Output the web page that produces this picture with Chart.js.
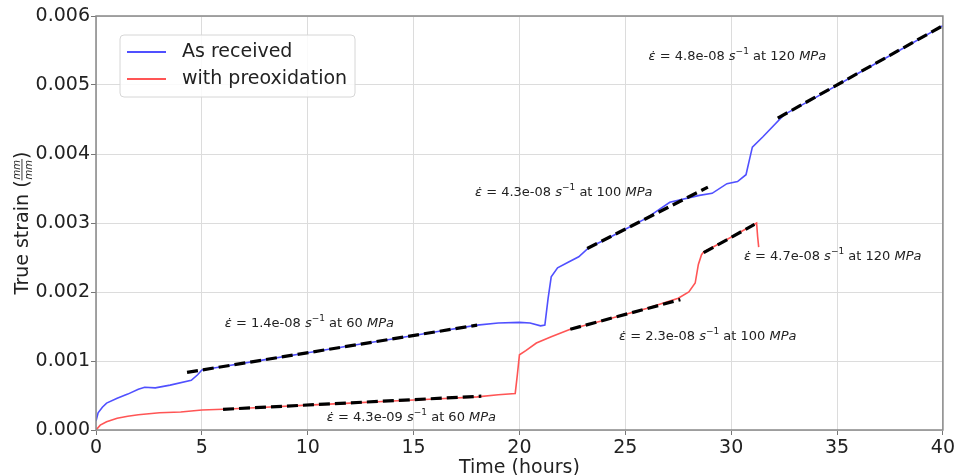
<!DOCTYPE html>
<html>
<head>
<meta charset="utf-8">
<script src="https://cdn.jsdelivr.net/npm/chart.js@4.4.1/dist/chart.umd.min.js"></script>
<style>
  html, body { margin: 0; padding: 0; background: #fff; }
  #wrap { position: relative; width: 957px; height: 475px; }
</style>
</head>
<body>
<div id="wrap"><canvas id="strain"></canvas></div>
<script>
// As received (blue)
const tBlue = [0, 0.1, 0.3, 0.5, 1.0, 1.5, 2.0, 2.3, 2.8, 3.5, 4.5, 4.8, 5.0, 6, 8, 10, 12, 14, 16, 18, 19, 20, 20.5, 21.0, 21.2, 21.35, 21.5, 21.8, 22.3, 22.8, 23.3, 24, 25, 26, 27.1, 28.5, 29.1, 29.8, 30.3, 30.7, 30.85, 31.0, 31.5, 32.5, 34, 36, 38, 40];
const sBlue = [0.00013, 0.00025, 0.00033, 0.00039, 0.00046, 0.00052, 0.00059, 0.00062, 0.00061, 0.00065, 0.00072, 0.0008, 0.00087, 0.00092, 0.00102, 0.00112, 0.00122, 0.00132, 0.00142, 0.00152, 0.00155, 0.00156, 0.00155, 0.00151, 0.00152, 0.0019, 0.00222, 0.00235, 0.00243, 0.00251, 0.00265, 0.00275, 0.00291, 0.00307, 0.0033, 0.0034, 0.00343, 0.00357, 0.0036, 0.0037, 0.0039, 0.0041, 0.00425, 0.00457, 0.00482, 0.00517, 0.00551, 0.00586];

// With preoxidation (red)
const tRed = [0, 0.2, 0.5, 1, 1.5, 2, 3, 4, 5, 6, 8, 10, 12, 14, 16, 18, 19, 19.8, 19.9, 20.0, 20.3, 20.8, 21.5, 22.4, 24, 26, 27.5, 28.0, 28.3, 28.45, 28.6, 28.7, 29.5, 30.5, 31.2, 31.25, 31.3];
const sRed = [0.0, 0.00007, 0.00012, 0.00017, 0.0002, 0.00022, 0.00025, 0.00026, 0.00029, 0.0003, 0.00033, 0.00036, 0.00039, 0.00042, 0.00045, 0.00048, 0.00051, 0.00053, 0.0008, 0.00109, 0.00115, 0.00126, 0.00135, 0.00146, 0.00159, 0.00176, 0.00191, 0.002, 0.00213, 0.0024, 0.00254, 0.00258, 0.00271, 0.00288, 0.003, 0.0028, 0.00265];

// linear fits (start/end)
const fitT = [[4.3, 18], [6, 18.2], [22.4, 27.6], [23.2, 28.9], [28.7, 31.1], [32.2, 40]];
const fitS = [[0.000835, 0.00152], [0.0003, 0.00049], [0.00146, 0.00189], [0.00263, 0.00352], [0.00257, 0.00298], [0.00452, 0.00586]];

// fit labels: rate, stress, anchor (hours, strain)
const noteRate = ['1.4e-08', '4.3e-09', '2.3e-08', '4.3e-08', '4.8e-08', '4.7e-08'];
const noteStress = [60, 60, 100, 100, 120, 120];
const noteT = [6.08, 10.9, 24.7, 17.9, 26.1, 30.6];
const noteS = [0.001536, 0.000174, 0.001348, 0.003435, 0.005406, 0.002507];

const xTicks = [0, 5, 10, 15, 20, 25, 30, 35, 40];
const yTicks = [0, 0.001, 0.002, 0.003, 0.004, 0.005, 0.006];

const blue = 'rgb(80,80,255)';
const red = 'rgb(255,85,85)';
const font = 'DejaVu Sans';
const ink = '#222';

const pts = (ts, ss) => ts.map((t, i) => ({ x: t, y: ss[i] }));

const datasets = [
    { label: 'As received', data: pts(tBlue, sBlue), borderColor: blue, borderWidth: 1.6, order: 2 },
    { label: 'with preoxidation', data: pts(tRed, sRed), borderColor: red, borderWidth: 1.6, order: 2 }
].concat(fitT.map((ts, i) => ({
    label: 'fit' + i, data: pts(ts, fitS[i]), borderColor: '#000', borderWidth: 3.2,
    borderDash: [11, 5], borderCapStyle: 'butt', order: 1
})));

function richText(ctx, x, y, rate, stress) {
    const pieces = [
        { t: 'ε\u0307', i: true }, { t: ' = ' + rate + ' ' }, { t: 's', i: true },
        { t: '\u22121', sup: true }, { t: ' at ' + stress + ' ' }, { t: 'MPa', i: true }
    ];
    let cx = x;
    pieces.forEach(p => {
        const size = p.sup ? 9 : 13;
        ctx.font = (p.i ? 'italic ' : '') + size + 'px "' + font + '"';
        ctx.fillText(p.t, cx, p.sup ? y - 5 : y);
        cx += ctx.measureText(p.t).width;
    });
}

const extras = {
    id: 'extras',
    afterDraw(chart) {
        const { ctx, chartArea: a, scales } = chart;
        ctx.save();
        // frame
        ctx.strokeStyle = '#888';
        ctx.lineWidth = 1.5;
        ctx.strokeRect(a.left, a.top, a.right - a.left, a.bottom - a.top);

        // fit labels
        ctx.fillStyle = ink;
        ctx.textBaseline = 'middle';
        ctx.textAlign = 'left';
        noteRate.forEach((r, i) => {
            richText(ctx, scales.x.getPixelForValue(noteT[i]), scales.y.getPixelForValue(noteS[i]), r, noteStress[i]);
        });

        // legend
        const lx = 120, ly = 35, lw = 235, lh = 62;
        ctx.beginPath();
        ctx.roundRect(lx, ly, lw, lh, 4);
        ctx.fillStyle = 'rgba(255,255,255,0.85)';
        ctx.fill();
        ctx.strokeStyle = '#d6d6d6';
        ctx.lineWidth = 1;
        ctx.stroke();
        ctx.font = '19px "' + font + '"';
        [0, 1].forEach(i => {
            const ds = chart.data.datasets[i];
            const yy = ly + 17 + i * 27;
            ctx.strokeStyle = ds.borderColor;
            ctx.lineWidth = 2;
            ctx.beginPath();
            ctx.moveTo(lx + 7, yy);
            ctx.lineTo(lx + 46, yy);
            ctx.stroke();
            ctx.fillStyle = ink;
            ctx.fillText(ds.label, lx + 62, yy);
        });

        // x title
        ctx.textAlign = 'center';
        ctx.textBaseline = 'alphabetic';
        ctx.fillText('Time (hours)', (a.left + a.right) / 2, 473);

        // y title with fraction
        ctx.translate(28, (a.top + a.bottom) / 2);
        ctx.rotate(-Math.PI / 2);
        const main = 'True strain (';
        ctx.font = '19px "' + font + '"';
        const wMain = ctx.measureText(main).width;
        const wParen = ctx.measureText(')').width;
        ctx.font = 'italic 10px "' + font + '"';
        const wFrac = ctx.measureText('mm').width + 2;
        let x0 = -(wMain + wFrac + wParen) / 2;
        ctx.textAlign = 'left';
        ctx.font = '19px "' + font + '"';
        ctx.fillText(main, x0, 0);
        x0 += wMain;
        ctx.font = 'italic 10px "' + font + '"';
        ctx.textAlign = 'center';
        ctx.fillText('mm', x0 + wFrac / 2, -8);
        ctx.fillText('mm', x0 + wFrac / 2, 4);
        ctx.fillRect(x0, -6.5, wFrac, 0.9);
        ctx.textAlign = 'left';
        ctx.font = '19px "' + font + '"';
        ctx.fillText(')', x0 + wFrac, 0);
        ctx.restore();
    }
};

new Chart(document.getElementById('strain'), {
    type: 'line',
    data: { datasets },
    options: {
        responsive: true,
        maintainAspectRatio: false,
        animation: false,
        parsing: false,
        layout: { padding: { top: 16, right: 13, left: 0, bottom: 0 } },
        elements: { point: { radius: 0 }, line: { tension: 0, fill: false } },
        plugins: { legend: { display: false }, tooltip: { enabled: false } },
        scales: {
            x: {
                type: 'linear', min: 0, max: 40,
                afterFit: s => { s.height = 45; },
                afterBuildTicks: s => { s.ticks = xTicks.map(v => ({ value: v })); },
                grid: { color: '#dcdcdc', lineWidth: 1, tickColor: '#777', tickLength: 5 },
                border: { display: false },
                ticks: { color: ink, font: { family: font, size: 19 }, padding: 2, maxRotation: 0 }
            },
            y: {
                type: 'linear', min: 0, max: 0.006,
                afterFit: s => { s.width = 96; },
                afterBuildTicks: s => { s.ticks = yTicks.map(v => ({ value: v })); },
                grid: { color: '#dcdcdc', lineWidth: 1, tickColor: '#777', tickLength: 5 },
                border: { display: false },
                ticks: { color: ink, font: { family: font, size: 19 }, padding: 1, callback: v => v.toFixed(3) }
            }
        }
    },
    plugins: [extras]
});
</script>
</body>
</html>
